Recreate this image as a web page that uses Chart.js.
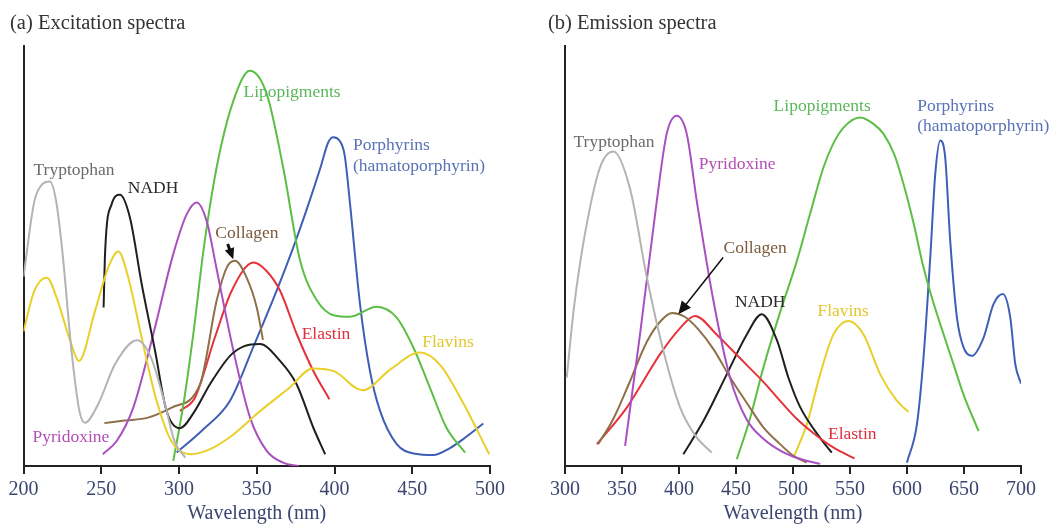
<!DOCTYPE html>
<html lang="en">

<head>
    <meta charset="UTF-8">
    <title>Excitation and emission spectra</title>
    <style>
        body { margin: 0; background: #fff; }
        #left { position: absolute; left: 0; top: 0; }
        #right { position: absolute; left: 538px; top: 0; }
    </style>
</head>

<body>
    <canvas id="left" width="530" height="524"></canvas>
    <canvas id="right" width="512" height="524"></canvas>

    <script src="https://cdn.jsdelivr.net/npm/chart.js"></script>
    <script>
        // x tick labels
        const exTicks = [200, 250, 300, 350, 400, 450, 500];
        const emTicks = [300, 350, 400, 450, 500, 550, 600, 650, 700];

        // (a) excitation spectra, [wavelength nm, relative intensity]
        const exTryptophan = [[200, 45], [207, 63], [212, 67], [217, 67.7], [221, 63], [225, 51], [231, 27], [236, 13], [239.5, 10.3], [248, 14.7], [259, 24.3], [273, 29.9], [282, 25.8], [291, 14.7], [297, 6], [304, 2]];
        const exFlavins = [[200, 32], [207, 41.7], [215, 44.8], [222, 39.3], [230, 29.8], [235.7, 25], [246, 36.9], [254.5, 47.2], [261, 51], [267.4, 44.8], [276, 30.5], [285, 16.3], [295, 6], [308, 2.8], [320, 4], [335, 7.5], [352, 13], [371, 18.6], [386, 23.2], [400, 22.5], [418, 18], [436, 23], [455, 27], [468, 24], [483, 14.8], [499.5, 2.8]];
        const exNADH = [[251.5, 37.7], [252.5, 51], [256.7, 62.3], [262, 64.5], [268.5, 59], [276, 43.3], [284.6, 27.4], [292, 13.1], [300.6, 9], [310, 13], [320, 19.5], [332.8, 26.2], [342, 28.5], [352, 29], [365, 25], [375.7, 19.4], [386.4, 9.1], [394, 2.8]];
        const exPyridoxine = [[251, 2.8], [260, 6], [270.6, 13.9], [283.5, 31.4], [296.3, 50.4], [305, 59.9], [311.4, 62.7], [318, 58], [324, 47.2], [335, 27.4], [345.7, 11.5], [356.4, 3.6], [367, 0.8], [377, 0]];
        const exLipopigments = [[296.3, 1.2], [303, 15], [309.2, 31.4], [316, 52], [324.2, 71], [335, 86.9], [345.5, 94], [356.4, 88.5], [367, 71], [377.8, 49], [388.5, 39.5], [400, 35.8], [410, 35.5], [427, 37.9], [440, 35.3], [450.7, 28.2], [461.4, 18.6], [472, 9.1], [484, 3.2]];
        const exCollagen = [[252, 10.2], [265, 10.8], [280, 11.5], [295.3, 13.9], [313.5, 19.4], [324.2, 39.3], [330.7, 47.2], [336, 48.8], [343.5, 44.8], [350, 37.7], [354, 30]];
        const exElastin = [[300.6, 13.1], [310.3, 16.3], [323, 30.5], [333.9, 41.7], [348, 48.4], [356, 46.5], [365, 41.7], [375.7, 31.4], [386.4, 22.6], [396.7, 15.9]];
        const exPorphyrins = [[298.5, 3.2], [315, 8.5], [332.8, 15.5], [348, 28.5], [362.8, 41.7], [373.5, 52], [383, 62], [391, 71], [396, 77], [399.2, 78.2], [403, 77.5], [406.5, 74], [410, 62.3], [416.4, 38.5], [422.8, 22.6], [429.3, 13.1], [440, 5.2], [452, 2.9], [463.5, 2.6], [474, 4.2], [482.8, 6.4], [495.7, 10.1]];

        // (b) emission spectra
        const emTryptophan = [[301.5, 21], [308, 38], [317.5, 55.2], [330.7, 71], [342.4, 74.8], [357, 66], [371.7, 45], [386.3, 27.4], [401, 13.9], [415, 7], [428.7, 3.2]];
        const emPyridoxine = [[352.7, 4.8], [365.8, 31.3], [380.5, 63], [389.2, 79], [398, 83.3], [406.8, 79], [415.6, 63], [430.2, 39.3], [444.8, 21], [459.5, 11], [474, 6.5], [490, 3.5], [505, 1.8], [523.8, 0.5]];
        const emCollagen = [[329, 5.2], [342, 11], [356, 19.5], [371.7, 29.5], [384, 34.5], [394, 36.4], [405, 35.5], [417, 32.5], [430.2, 27.8], [445, 21], [459.5, 15], [474, 9.2], [488.7, 5.2], [500, 2.5], [512, 0.8]];
        const emElastin = [[328, 5.2], [354.2, 13.9], [383.4, 26.6], [400, 32.5], [414, 35.7], [433, 31.3], [445, 28], [459.5, 24], [474, 20], [488.7, 15.5], [503, 11.3], [518, 7.8], [536, 4.3], [554, 1.8]];
        const emNADH = [[403.8, 2.8], [421.4, 10.7], [441.9, 21.8], [459.5, 31.3], [472.6, 36.1], [485.8, 30], [496, 21], [506.3, 14], [523.8, 6.7], [534, 3.2]];
        const emLipopigments = [[450.7, 1.6], [462, 11], [474, 23.4], [488, 36], [503.4, 48.8], [515, 60], [526.7, 71], [535, 76.5], [544.3, 80.5], [558.9, 82.9], [570, 81.5], [579.4, 79], [589, 74], [597, 67], [606, 57.5], [614.5, 47.2], [623, 39], [632, 31.4], [641, 24], [649.6, 17], [662.8, 8.3]];
        const emFlavins = [[500.4, 2], [512.1, 9.9], [523.8, 21.8], [535.5, 31.3], [548.7, 34.5], [561.9, 31.3], [576.5, 21.8], [591.2, 15.5], [601.3, 12.9]];
        const emPorphyrins = [[599.9, 0.8], [608.7, 9.9], [614.5, 25.8], [620.4, 49.6], [624.8, 69.5], [629.2, 77.4], [633.5, 73.4], [637.9, 53.6], [643.8, 35.3], [649.6, 28.2], [656.9, 26.2], [667.1, 30.5], [675.9, 38.5], [684.1, 40.9], [690.6, 35.3], [695, 24.2], [700, 19.6]];

        // Colours per compound: [line, label]
        const colors = {
            Tryptophan: ['#b3b3b3', '#6b6b6b'],
            Flavins: ['#e8cf2a', '#e2c72c'],
            NADH: ['#1f1f1f', '#2b2b2b'],
            Pyridoxine: ['#a94fc0', '#b04fb4'],
            Lipopigments: ['#5cbf45', '#5cb75a'],
            Collagen: ['#8f7048', '#7b5a3c'],
            Elastin: ['#e5333c', '#df2f3c'],
            Porphyrins: ['#3f5fb5', '#5a72b8']
        };

        const serif = "'Liberation Serif', 'DejaVu Serif', serif";
        const axisColor = '#3b4570';

        // Text labels [text, x nm, y value, compound, align]
        const exLabels = [
            ['Tryptophan', 232.5, 70.2, 'Tryptophan', 'center'],
            ['NADH', 283.3, 66, 'NADH', 'center'],
            ['Lipopigments', 372.7, 88.8, 'Lipopigments', 'center'],
            ['Porphyrins', 411.9, 76.2, 'Porphyrins', 'left'],
            ['(hamatoporphyrin)', 411.9, 71.2, 'Porphyrins', 'left'],
            ['Collagen', 343.7, 55.4, 'Collagen', 'center'],
            ['Elastin', 394.5, 31.2, 'Elastin', 'center'],
            ['Flavins', 473, 29.4, 'Flavins', 'center'],
            ['Pyridoxine', 230.5, 6.8, 'Pyridoxine', 'center']
        ];
        const emLabels = [
            ['Tryptophan', 343, 76.9, 'Tryptophan', 'center'],
            ['Pyridoxine', 451, 71.7, 'Pyridoxine', 'center'],
            ['Lipopigments', 525.6, 85.5, 'Lipopigments', 'center'],
            ['Porphyrins', 609, 85.5, 'Porphyrins', 'left'],
            ['(hamatoporphyrin)', 609, 80.7, 'Porphyrins', 'left'],
            ['Collagen', 466.8, 51.7, 'Collagen', 'center'],
            ['NADH', 471.2, 38.8, 'NADH', 'center'],
            ['Flavins', 544, 36.7, 'Flavins', 'center'],
            ['Elastin', 552, 7.6, 'Elastin', 'center']
        ];
        // arrows [from nm, from value, to nm, to value, width, head]
        const exArrows = [[331.3, 52.8, 334.9, 49.2, 3, 11]];
        const emArrows = [[438.7, 49.6, 399.4, 36.1, 1.5, 13]];

        function toDataset(name, points) {
            return {
                label: name,
                data: points.map(p => ({ x: p[0], y: p[1] })),
                borderColor: colors[name][0],
                borderWidth: 2,
                pointRadius: 0,
                fill: false,
                cubicInterpolationMode: 'monotone'
            };
        }

        // draws the compound names and the arrows in data coordinates
        const annotate = {
            id: 'annotate',
            afterDatasetsDraw(chart, args, opts) {
                const c = chart.ctx, xs = chart.scales.x, ys = chart.scales.y;
                c.save();
                c.font = '17.5px ' + serif;
                c.textBaseline = 'middle';
                opts.labels.forEach(l => {
                    c.fillStyle = colors[l[3]][1];
                    c.textAlign = l[4];
                    c.fillText(l[0], xs.getPixelForValue(l[1]), ys.getPixelForValue(l[2]));
                });
                opts.arrows.forEach(a => {
                    const x1 = xs.getPixelForValue(a[0]), y1 = ys.getPixelForValue(a[1]);
                    const x2 = xs.getPixelForValue(a[2]), y2 = ys.getPixelForValue(a[3]);
                    const ang = Math.atan2(y2 - y1, x2 - x1), h = a[5];
                    c.strokeStyle = '#111';
                    c.fillStyle = '#111';
                    c.lineWidth = a[4];
                    c.beginPath();
                    c.moveTo(x1, y1);
                    c.lineTo(x2 - h * 0.8 * Math.cos(ang), y2 - h * 0.8 * Math.sin(ang));
                    c.stroke();
                    c.beginPath();
                    c.moveTo(x2, y2);
                    c.lineTo(x2 - h * Math.cos(ang) + h * 0.45 * Math.sin(ang), y2 - h * Math.sin(ang) - h * 0.45 * Math.cos(ang));
                    c.lineTo(x2 - h * Math.cos(ang) - h * 0.45 * Math.sin(ang), y2 - h * Math.sin(ang) + h * 0.45 * Math.cos(ang));
                    c.closePath();
                    c.fill();
                });
                c.restore();
            }
        };

        function makeChart(id, title, series, ticks, labels, arrows, yWidth, padRight) {
            const xMin = ticks[0], xMax = ticks[ticks.length - 1];
            return new Chart(document.getElementById(id), {
                type: 'line',
                data: { datasets: series },
                plugins: [annotate],
                options: {
                    responsive: false,
                    animation: false,
                    layout: { padding: { left: 10, right: padRight, top: 0, bottom: 0 } },
                    plugins: {
                        legend: { display: false },
                        tooltip: { enabled: false },
                        title: {
                            display: true, text: title, align: 'start', color: '#333',
                            font: { family: serif, size: 20.5, weight: 'normal' },
                            padding: { top: 11, bottom: 10 }
                        },
                        annotate: { labels: labels, arrows: arrows }
                    },
                    scales: {
                        x: {
                            type: 'linear', min: xMin, max: xMax,
                            afterBuildTicks: s => { s.ticks = ticks.map(v => ({ value: v })); },
                            grid: { drawOnChartArea: false, drawTicks: true, tickLength: 8, color: '#222', lineWidth: 2 },
                            border: { display: true, color: '#222', width: 2 },
                            ticks: { color: axisColor, padding: 6, font: { family: serif, size: 20, lineHeight: 1 } },
                            title: {
                                display: true, text: 'Wavelength (nm)', color: axisColor,
                                font: { family: serif, size: 20, lineHeight: 1 }, padding: { top: -2, bottom: 0 }
                            }
                        },
                        y: {
                            min: 0, max: 100,
                            afterFit: s => { s.width = yWidth; },
                            ticks: { display: false },
                            grid: { display: false, drawTicks: false },
                            border: { display: true, color: '#222', width: 2 }
                        }
                    }
                }
            });
        }

        makeChart('left', '(a) Excitation spectra', [
            toDataset('Tryptophan', exTryptophan),
            toDataset('Flavins', exFlavins),
            toDataset('NADH', exNADH),
            toDataset('Pyridoxine', exPyridoxine),
            toDataset('Lipopigments', exLipopigments),
            toDataset('Collagen', exCollagen),
            toDataset('Elastin', exElastin),
            toDataset('Porphyrins', exPorphyrins)
        ], exTicks, exLabels, exArrows, 13.5, 40);

        makeChart('right', '(b) Emission spectra', [
            toDataset('Tryptophan', emTryptophan),
            toDataset('Pyridoxine', emPyridoxine),
            toDataset('Collagen', emCollagen),
            toDataset('Elastin', emElastin),
            toDataset('NADH', emNADH),
            toDataset('Lipopigments', emLipopigments),
            toDataset('Flavins', emFlavins),
            toDataset('Porphyrins', emPorphyrins)
        ], emTicks, emLabels, emArrows, 17, 29);
    </script>
</body>

</html>
